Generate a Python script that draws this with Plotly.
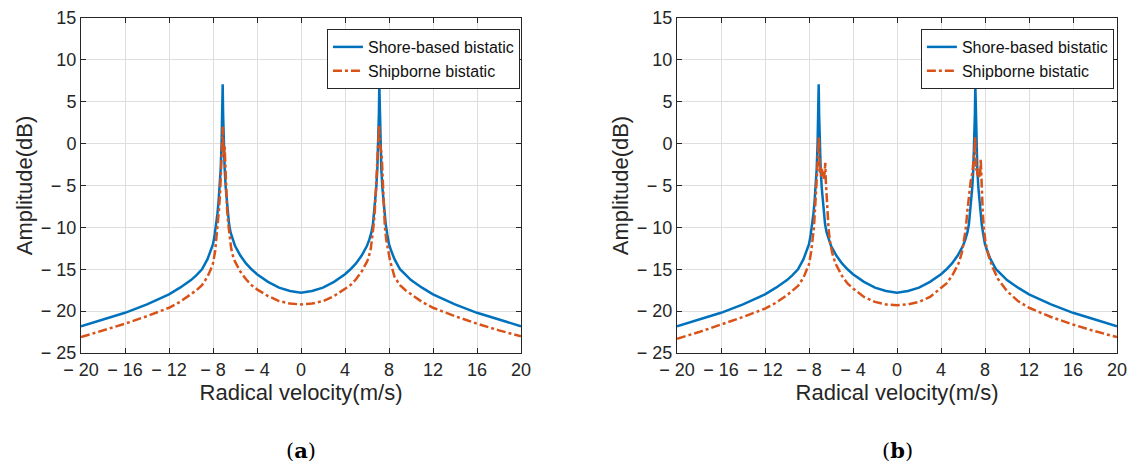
import plotly.graph_objects as go

# ---------------- data ----------------
v_blue = [-20, -18, -16, -14, -12, -11, -10, -9.5, -9, -8.5, -8.2, -8, -7.85, -7.7, -7.6, -7.5, -7.4, -7.3, -7.22, -7.16, -7.12,
          -7.08, -7.02, -6.94, -6.84, -6.74, -6.64, -6.54, -6.4, -6.2, -6, -5.5, -5, -4.5, -4, -3, -2, -1, 0,
          1, 2, 3, 4, 4.5, 5, 5.5, 6, 6.2, 6.4, 6.54, 6.64, 6.74, 6.84, 6.94, 7.02, 7.08, 7.12,
          7.16, 7.22, 7.3, 7.4, 7.5, 7.6, 7.7, 7.85, 8, 8.2, 8.5, 9, 9.5, 10, 11, 12, 14, 16, 18, 20]
amp_blue = [-21.8, -21.0, -20.2, -19.2, -18.0, -17.2, -16.3, -15.7, -15.0, -13.8, -12.8, -12.0, -10.9, -9.6, -8.4, -7.0, -5.3, -3.0, 0.0, 3.5, 7.1,
            3.5, 0.0, -3.0, -5.3, -7.0, -8.4, -9.6, -10.6, -11.5, -12.2, -13.4, -14.3, -15.0, -15.6, -16.5, -17.2, -17.6, -17.8,
            -17.6, -17.2, -16.5, -15.6, -15.0, -14.3, -13.4, -12.2, -11.5, -10.6, -9.6, -8.4, -7.0, -5.3, -3.0, 0.0, 3.5, 7.1,
            3.5, 0.0, -3.0, -5.3, -7.0, -8.4, -9.6, -10.9, -12.0, -12.8, -13.8, -15.0, -15.7, -16.3, -17.2, -18.0, -19.2, -20.2, -21.0, -21.8]

v_ship_a = [-20, -18, -16, -14, -12, -11, -10, -9.5, -9, -8.5, -8.2, -8, -7.8, -7.65, -7.55, -7.45, -7.35, -7.27, -7.2, -7.14, -7.11,
            -7.07, -7.03, -6.98, -6.94, -6.9, -6.86, -6.8, -6.72, -6.62, -6.5, -6.35, -6.15, -6, -5.5, -5, -4.5, -4, -3, -2, -1, 0,
            1, 2, 3, 4, 4.5, 5, 5.5, 6, 6.15, 6.35, 6.5, 6.62, 6.72, 6.8, 6.88, 6.96, 7.04, 7.1,
            7.15, 7.2, 7.27, 7.33, 7.38, 7.45, 7.53, 7.62, 7.75, 7.9, 8.1, 8.5, 9, 9.5, 10, 11, 12, 14, 16, 18, 20]
amp_ship_a = [-23.1, -22.3, -21.5, -20.6, -19.6, -18.9, -18.0, -17.5, -16.9, -15.9, -15.0, -14.3, -12.8, -11.0, -9.5, -7.8, -5.8, -3.5, -1.0, 1.0, 2.0,
              0.0, -1.5, -0.8, -0.2, -1.8, -3.8, -5.8, -7.8, -9.5, -11.0, -12.5, -13.6, -14.1, -15.3, -16.2, -16.9, -17.4, -18.2, -18.8, -19.1, -19.2,
              -19.1, -18.8, -18.2, -17.4, -16.9, -16.2, -15.3, -14.1, -13.6, -12.5, -11.0, -9.5, -7.8, -5.8, -3.8, -1.5, 0.5, 2.2,
              0.3, -0.5, -0.8, -1.2, -3.0, -5.5, -7.8, -9.8, -11.5, -12.8, -14.0, -15.9, -16.9, -17.5, -18.0, -18.9, -19.6, -20.6, -21.5, -22.3, -23.0]

v_ship_b = [-20, -18, -16, -14, -12, -11, -10, -9.5, -9, -8.5, -8.2, -8, -7.8, -7.65, -7.55, -7.45, -7.35, -7.25, -7.16, -7.11,
            -7.07, -7.02, -6.96, -6.9, -6.83, -6.76, -6.7, -6.64, -6.58, -6.52, -6.47, -6.4, -6.32, -6.22, -6.1, -5.9, -5.6,
            -5, -4.5, -4, -3, -2, -1, 0,
            1, 2, 3, 4, 4.5, 5, 5.6, 5.9, 6.1, 6.25, 6.4, 6.55, 6.7, 6.85, 6.98, 7.06, 7.1,
            7.14, 7.2, 7.26, 7.32, 7.38, 7.44, 7.5, 7.56, 7.61, 7.66, 7.72, 7.8, 7.9, 8.05, 8.3, 8.7, 9.2, 9.6, 10, 11, 12, 14, 16, 18, 20]
amp_ship_b = [-23.3, -22.5, -21.6, -20.7, -19.7, -19.0, -18.1, -17.6, -17.0, -16.0, -15.1, -14.4, -12.9, -11.0, -10.0, -7.8, -5.8, -3.5, -1.0, 0.8,
              -2.0, -3.5, -2.8, -3.9, -3.0, -4.0, -3.2, -4.2, -3.6, -2.3, -4.5, -6.5, -8.5, -10.2, -11.6, -13.0, -14.3,
              -15.8, -16.7, -17.3, -18.3, -18.9, -19.2, -19.3,
              -19.2, -18.9, -18.3, -17.3, -16.7, -15.8, -14.3, -13.0, -11.6, -10.2, -8.0, -6.0, -4.5, -3.5, -2.0, -0.5, 0.8,
              -2.5, -3.2, -2.8, -3.8, -3.0, -4.0, -3.3, -4.0, -1.8, -4.2, -6.3, -8.3, -10.2, -11.8, -13.3, -14.8, -16.2, -16.9, -17.6, -18.8, -19.6, -20.7, -21.6, -22.4, -23.1]

x_ticks = [-20, -16, -12, -8, -4, 0, 4, 8, 12, 16, 20]
x_ticktext = ["\u2212 20", "\u2212 16", "\u2212 12", "\u2212 8", "\u2212 4", "0", "4", "8", "12", "16", "20"]
y_ticks = [-25, -20, -15, -10, -5, 0, 5, 10, 15]
y_ticktext = ["\u2212 25", "\u2212 20", "\u2212 15", "\u2212 10", "\u2212 5", "0", "5", "10", "15"]

series_names = ["Shore-based bistatic", "Shipborne bistatic"]
captions = ["(<b>a</b>)", "(<b>b</b>)"]

BLUE = "#0072BD"
ORANGE = "#D95319"
FONT = "Liberation Sans, Arial, sans-serif"

fig = go.Figure()

fig.add_trace(go.Scatter(x=v_blue, y=amp_blue, mode="lines", name=series_names[0],
                         line=dict(color=BLUE, width=2.5), xaxis="x", yaxis="y", legend="legend"))
fig.add_trace(go.Scatter(x=v_ship_a, y=amp_ship_a, mode="lines", name=series_names[1],
                         line=dict(color=ORANGE, width=2.5, dash="dashdot"), xaxis="x", yaxis="y", legend="legend"))
fig.add_trace(go.Scatter(x=v_blue, y=amp_blue, mode="lines", name=series_names[0],
                         line=dict(color=BLUE, width=2.5), xaxis="x2", yaxis="y2", legend="legend2"))
fig.add_trace(go.Scatter(x=v_ship_b, y=amp_ship_b, mode="lines", name=series_names[1],
                         line=dict(color=ORANGE, width=2.5, dash="dashdot"), xaxis="x2", yaxis="y2", legend="legend2"))

L, R, T, B = 81, 14, 18, 113
W, H = 1131, 466
pw = W - L - R
ph = H - T - B
da = [0, (521 - L) / pw]
db = [(677 - L) / pw, 1]

axis_common = dict(showline=True, linecolor="#262626", linewidth=1, mirror="ticks",
                   ticks="inside", ticklen=5, tickcolor="#262626", automargin=False,
                   showgrid=True, gridcolor="#dedede", gridwidth=1, zeroline=False,
                   tickfont=dict(family=FONT, size=18, color="#262626"))

xa = dict(axis_common, range=[-20, 20], tickvals=x_ticks, ticktext=x_ticktext,
          title=dict(text="Radical velocity(m/s)", font=dict(family=FONT, size=22, color="#262626"), standoff=4))
ya = dict(axis_common, range=[-25, 15], tickvals=y_ticks, ticktext=y_ticktext,
          title=dict(text="Amplitude(dB)", font=dict(family=FONT, size=22, color="#262626"), standoff=2))

legend_common = dict(bgcolor="white", bordercolor="#262626", borderwidth=1,
                     font=dict(family=FONT, size=16, color="#111111"),
                     yanchor="top", xanchor="right", tracegroupgap=0)

fig.update_layout(
    width=W, height=H, margin=dict(l=L, r=R, t=T, b=B),
    paper_bgcolor="white", plot_bgcolor="white",
    xaxis=dict(xa, domain=da, anchor="y"),
    yaxis=dict(ya, domain=[0, 1], anchor="x"),
    xaxis2=dict(xa, domain=db, anchor="y2"),
    yaxis2=dict(ya, domain=[0, 1], anchor="x2"),
    legend=dict(legend_common, x=da[1] - 0.001, y=1 - 11 / ph),
    legend2=dict(legend_common, x=db[1] - 0.003, y=1 - 11 / ph),
    showlegend=True,
)

for cap, d in zip(captions, [da, db]):
    fig.add_annotation(text=cap, xref="paper", yref="paper", x=(d[0] + d[1]) / 2, y=-(450 - (H - B)) / ph,
                       showarrow=False, yanchor="middle", xanchor="center",
                       font=dict(family="DejaVu Serif, Liberation Serif, serif", size=21, color="black"))

fig.write_html("out.html")
